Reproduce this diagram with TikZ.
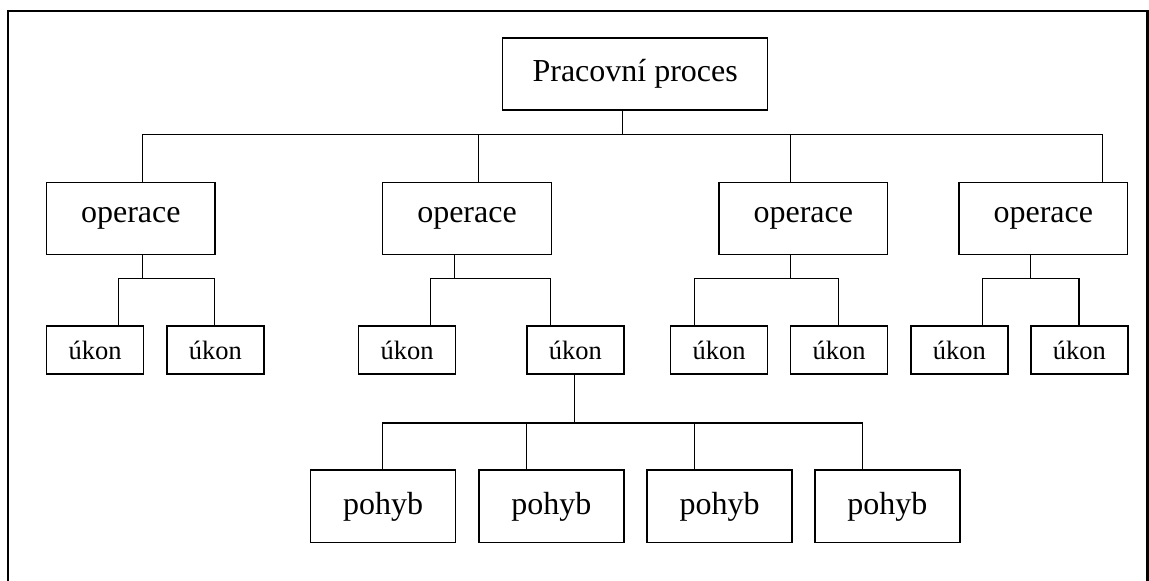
\documentclass[tikz,border=0pt]{standalone}
\usepackage{fontspec}
\setmainfont{Liberation Serif}
\usetikzlibrary{calc}
\tikzset{
  bigbox/.style={draw, line width=1.3pt, rectangle, inner sep=0pt, minimum width=168.5pt, minimum height=72pt, font=\fontsize{32}{38}\selectfont},
  topbox/.style={bigbox, minimum width=265pt},
  smallbox/.style={draw, line width=1.3pt, rectangle, inner sep=0pt, minimum width=97pt, minimum height=48pt, font=\fontsize{26.5}{32}\selectfont},
  movebox/.style={bigbox, minimum width=145pt, minimum height=72.7pt},
  link/.style={line width=1.3pt},
  frame/.style={line width=2.2pt}
}
\begin{document}
\begin{tikzpicture}[x=1pt,y=-1pt]
\useasboundingbox (0,0) rectangle (1149,581);
\draw[frame] (8,581) -- (8,11) -- (1147.5,11) -- (1147.5,581);

\node[topbox] (top) at (635.2,74) {Pracovní proces};

\node[bigbox] (op1) at (130.85,218.2) {operace};
\node[bigbox] (op2) at (467,218.2) {operace};
\node[bigbox] (op3) at (803.35,218.2) {operace};
\node[bigbox] (op4) at (1043.35,218.2) {operace};

\node[smallbox] (ua) at (95,350) {úkon};
\node[smallbox] (ub) at (215.35,350) {úkon};
\node[smallbox] (uc) at (407,350) {úkon};
\node[smallbox] (ud) at (575.35,350) {úkon};
\node[smallbox] (ue) at (719,350) {úkon};
\node[smallbox] (uf) at (839.2,350) {úkon};
\node[smallbox] (ug) at (959.35,350) {úkon};
\node[smallbox] (uh) at (1079.35,350) {úkon};

\node[movebox] (p1) at (383.2,506.35) {pohyb};
\node[movebox] (p2) at (551.35,506.35) {pohyb};
\node[movebox] (p3) at (719.5,506.35) {pohyb};
\node[movebox] (p4) at (887.35,506.35) {pohyb};

% top level
\coordinate (t0) at ($(top.south west)+(120.6,0)$);
\coordinate (b0) at ($(t0)+(0,24)$);
\draw[link] (t0) -- (b0);
\foreach \n/\dx in {op1/96.6, op2/96.3, op3/72.3, op4/144.3}
  \draw[link] ($(\n.north west)+(\dx,0)$) |- (b0);

% operations to tasks
\foreach \o/\ox/\a/\ax/\b/\bx in {op1/96.6/ua/72.3/ub/48.3, op2/72.6/uc/72.7/ud/24.6, op3/72.3/ue/24.3/uf/48.6, op4/72.3/ug/72.3/uh/48.7}{
  \coordinate (s\o) at ($(\o.south west)+(\ox,0)$);
  \coordinate (m\o) at ($(s\o)+(0,23.5)$);
  \draw[link] (s\o) -- (m\o);
  \draw[link] ($(\a.north west)+(\ax,0)$) |- (m\o);
  \draw[link] ($(\b.north west)+(\bx,0)$) |- (m\o);
}

% task to movements
\coordinate (sd) at ($(ud.south west)+(48.6,0)$);
\coordinate (md) at ($(sd)+(0,48.3)$);
\draw[link] (sd) -- (md);
\foreach \p/\px in {p1/72.6, p2/48.3, p3/48.4, p4/48.3}
  \draw[link] ($(\p.north west)+(\px,0)$) |- (md);
\end{tikzpicture}
\end{document}
